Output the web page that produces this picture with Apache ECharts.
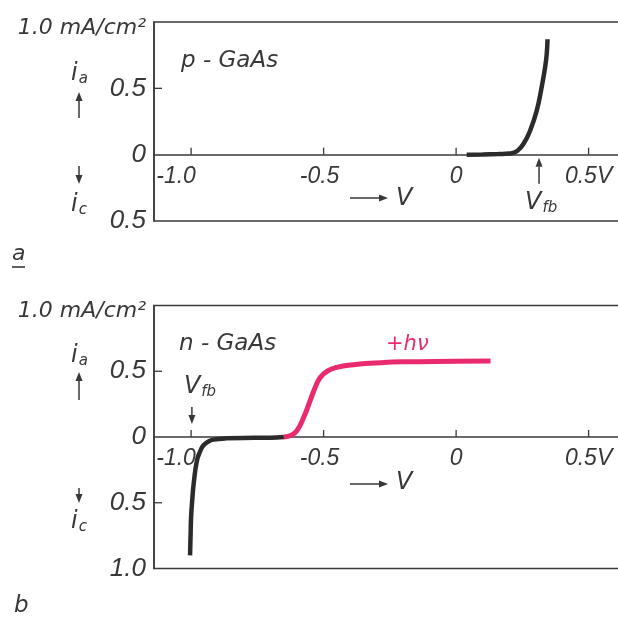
<!DOCTYPE html>
<html>
<head>
<meta charset="utf-8">
<script src="https://cdn.jsdelivr.net/npm/echarts@6/dist/echarts.min.js"></script>
<style>
html,body{margin:0;padding:0;background:#fff;}
#c{width:618px;height:620px;}
</style>
</head>
<body>
<div id="c"></div>
<script>
// ---- data ----
const xTicks = [-1.0, -0.5, 0, 0.5];
const yTickTop = [0.5];
const yTickBottom = [0.5, -0.5];
// p-GaAs (dark)
const pV = [0.04, 0.10, 0.16, 0.20, 0.215, 0.23, 0.254, 0.279, 0.304, 0.323, 0.336, 0.342, 0.345];
const pI = [0.0, 0.002, 0.005, 0.008, 0.014, 0.027, 0.08, 0.18, 0.33, 0.51, 0.66, 0.76, 0.87];
// n-GaAs (dark)
const nDarkV = [-1.004, -1.002, -1.0, -0.995, -0.99, -0.978, -0.966, -0.954, -0.935, -0.916, -0.865, -0.76, -0.677, -0.65];
const nDarkI = [-0.90, -0.75, -0.61, -0.46, -0.35, -0.18, -0.11, -0.065, -0.035, -0.02, -0.01, -0.006, -0.003, 0.0];
// n-GaAs (illuminated, +hv)
const nLightV = [-0.65, -0.62, -0.60, -0.575, -0.55, -0.531, -0.512, -0.487, -0.45, -0.387, -0.324, -0.2, 0.0, 0.13];
const nLightI = [0.0, 0.015, 0.05, 0.15, 0.28, 0.38, 0.455, 0.50, 0.53, 0.55, 0.56, 0.572, 0.576, 0.578];
// flat-band potentials
const vfbP = 0.313;
const vfbN = -0.997;

const zip = (a, b) => a.map((v, i) => [v, b[i]]);

const TXT = '#383838';
const LINE = '#3a3a3a';
const PINK = '#ea2a6e';
const NUMFONT = '"Liberation Sans", Arial, sans-serif';
const TXTFONT = '"DejaVu Sans", sans-serif';

const X_MIN = -1.14, X_MAX = 0.66;
const GRIDS = [
  { top: 22, height: 199, yMin: -0.5, yMax: 1.0, ticks: yTickTop },
  { top: 305.5, height: 263, yMin: -1.0, yMax: 1.0, ticks: yTickBottom }
];

function xAxisDef(gi) {
  const G = GRIDS[gi];
  // place the axis on the zero line (offset upward from grid bottom)
  const off = -((0 - G.yMin) / (G.yMax - G.yMin)) * G.height;
  return {
    type: 'value', gridIndex: gi, min: X_MIN, max: X_MAX, position: 'bottom', offset: off,
    axisLine: { show: true, onZero: false, lineStyle: { color: LINE, width: 1.5 } },
    axisTick: { show: false },
    axisLabel: {
      customValues: xTicks, margin: 10, color: TXT, fontSize: 23, fontStyle: 'italic', fontFamily: NUMFONT,
      formatter: v => {
        if (Math.abs(v + 1) < 1e-9) return '{l|-1.0}';
        if (Math.abs(v + 0.5) < 1e-9) return '{m|-0.5}';
        if (Math.abs(v) < 1e-9) return '0';
        return '0.5V';
      },
      rich: {
        l: { fontSize: 23, fontStyle: 'italic', fontFamily: NUMFONT, color: TXT, padding: [0, 30, 0, 0] },
        m: { fontSize: 23, fontStyle: 'italic', fontFamily: NUMFONT, color: TXT, padding: [0, 8, 0, 0] }
      }
    },
    splitLine: { show: false }
  };
}
function yAxisDef(gi) {
  const G = GRIDS[gi];
  return {
    type: 'value', gridIndex: gi, min: G.yMin, max: G.yMax, interval: 0.5,
    axisLine: { show: true, onZero: false, lineStyle: { color: LINE, width: 1.5 } },
    axisTick: { show: false },
    axisLabel: {
      margin: 8, color: TXT, fontSize: 26, fontStyle: 'italic', fontFamily: NUMFONT,
      formatter: v => {
        if (Math.abs(v - 1) < 1e-9) return '{u|1.0 mA/cm²}';
        if (Math.abs(v) < 1e-9) return '0';
        return Math.abs(v).toFixed(1);
      },
      rich: {
        u: { fontSize: 22, fontStyle: 'italic', fontFamily: TXTFONT, color: TXT, padding: [12, 0, 0, 0] }
      }
    },
    splitLine: { show: false }
  };
}

const chart = echarts.init(document.getElementById('c'), null, { renderer: 'canvas' });
chart.setOption({
  backgroundColor: '#ffffff',
  animation: false,
  grid: GRIDS.map(G => ({ left: 154, top: G.top, width: 477, height: G.height, show: true,
    borderColor: LINE, borderWidth: 1.5, backgroundColor: 'transparent', outerBoundsMode: 'none', containLabel: false })),
  xAxis: [xAxisDef(0), xAxisDef(1)],
  yAxis: [yAxisDef(0), yAxisDef(1)],
  series: [
    { type: 'line', xAxisIndex: 0, yAxisIndex: 0, data: zip(pV, pI), smooth: 0.5, showSymbol: false,
      lineStyle: { color: '#2b2b2b', width: 4.5 } },
    { type: 'line', xAxisIndex: 1, yAxisIndex: 1, data: zip(nDarkV, nDarkI), smooth: 0.5, showSymbol: false,
      lineStyle: { color: '#2b2b2b', width: 4.5 } },
    { type: 'line', xAxisIndex: 1, yAxisIndex: 1, data: zip(nLightV, nLightI), smooth: 0.5, showSymbol: false,
      lineStyle: { color: PINK, width: 5 } }
  ]
});

function arrow(x1, y1, x2, y2, color) {
  const dx = x2 - x1, dy = y2 - y1, L = Math.sqrt(dx * dx + dy * dy);
  const ux = dx / L, uy = dy / L, hl = 9, hw = 3.5;
  const bx = x2 - ux * hl, by = y2 - uy * hl;
  return [
    { type: 'line', shape: { x1: x1, y1: y1, x2: bx, y2: by }, style: { stroke: color, lineWidth: 1.5 } },
    { type: 'polygon', shape: { points: [[x2, y2], [bx - uy * hw, by + ux * hw], [bx + uy * hw, by - ux * hw]] }, style: { fill: color } }
  ];
}
function txt(x, y, text, size, extra) {
  return Object.assign({ type: 'text', x: x, y: y,
    style: { text: text, fill: TXT, font: 'italic ' + size + 'px ' + TXTFONT, textVerticalAlign: 'middle', textAlign: 'left' } }, extra || {});
}
function rtxt(x, y, main, sub) {
  return { type: 'text', x: x, y: y, style: {
    text: '{m|' + main + '}{s|' + sub + '}', textVerticalAlign: 'middle', textAlign: 'left',
    rich: {
      m: { fill: TXT, fontSize: 24, fontStyle: 'italic', fontFamily: TXTFONT },
      s: { fill: TXT, fontSize: 15, fontStyle: 'italic', fontFamily: TXTFONT, padding: [10, 0, 0, 1] }
    } } };
}

let g = [];
// axis ticks (inside, computed from axis values)
[0, 1].forEach(gi => {
  const G = GRIDS[gi];
  xTicks.forEach(v => {
    const p = chart.convertToPixel({ xAxisIndex: gi, yAxisIndex: gi }, [v, 0]);
    g.push({ type: 'line', shape: { x1: p[0], y1: p[1], x2: p[0], y2: p[1] - 7 }, style: { stroke: LINE, lineWidth: 1.3 } });
  });
  G.ticks.forEach(v => {
    const p = chart.convertToPixel({ xAxisIndex: gi, yAxisIndex: gi }, [X_MIN, v]);
    g.push({ type: 'line', shape: { x1: p[0], y1: p[1], x2: p[0] + 8, y2: p[1] }, style: { stroke: LINE, lineWidth: 1.3 } });
  });
});

const pTop = chart.convertToPixel({ xAxisIndex: 0, yAxisIndex: 0 }, [vfbP, 0]);
const pBot = chart.convertToPixel({ xAxisIndex: 1, yAxisIndex: 1 }, [vfbN, 0]);

// top panel
g.push(txt(181, 61, 'p - GaAs', 23));
g.push(rtxt(71, 74, 'i', 'a'));
g = g.concat(arrow(79, 118, 79, 92, TXT));
g = g.concat(arrow(79, 166, 79, 184, TXT));
g.push(rtxt(71, 205, 'i', 'c'));
g = g.concat(arrow(350, 198, 388, 198, TXT));
g.push(txt(396, 199, 'V', 24));
g = g.concat(arrow(pTop[0], pTop[1] + 29, pTop[0], pTop[1] + 3, TXT));
g.push(rtxt(pTop[0] - 14, pTop[1] + 48, 'V', 'fb'));
g.push(txt(12, 254, 'a', 22));
g.push({ type: 'line', shape: { x1: 12, y1: 267, x2: 25, y2: 267 }, style: { stroke: TXT, lineWidth: 1.6 } });
// bottom panel
g.push(txt(179, 344, 'n - GaAs', 23));
g.push({ type: 'text', x: 386, y: 345, style: { text: '+hν', fill: PINK, font: 'italic 21px ' + TXTFONT, textVerticalAlign: 'middle' } });
g.push(rtxt(71, 356, 'i', 'a'));
g = g.concat(arrow(79, 400, 79, 372, TXT));
g = g.concat(arrow(79, 488, 79, 503, TXT));
g.push(rtxt(71, 522, 'i', 'c'));
g = g.concat(arrow(350, 484, 388, 484, TXT));
g.push(txt(396, 483, 'V', 24));
g = g.concat(arrow(pBot[0], pBot[1] - 30, pBot[0], pBot[1] - 13, TXT));
g.push(rtxt(pBot[0] - 8, pBot[1] - 50, 'V', 'fb'));
g.push(txt(14, 606, 'b', 23));

chart.setOption({ graphic: { elements: g } });
</script>
</body>
</html>
